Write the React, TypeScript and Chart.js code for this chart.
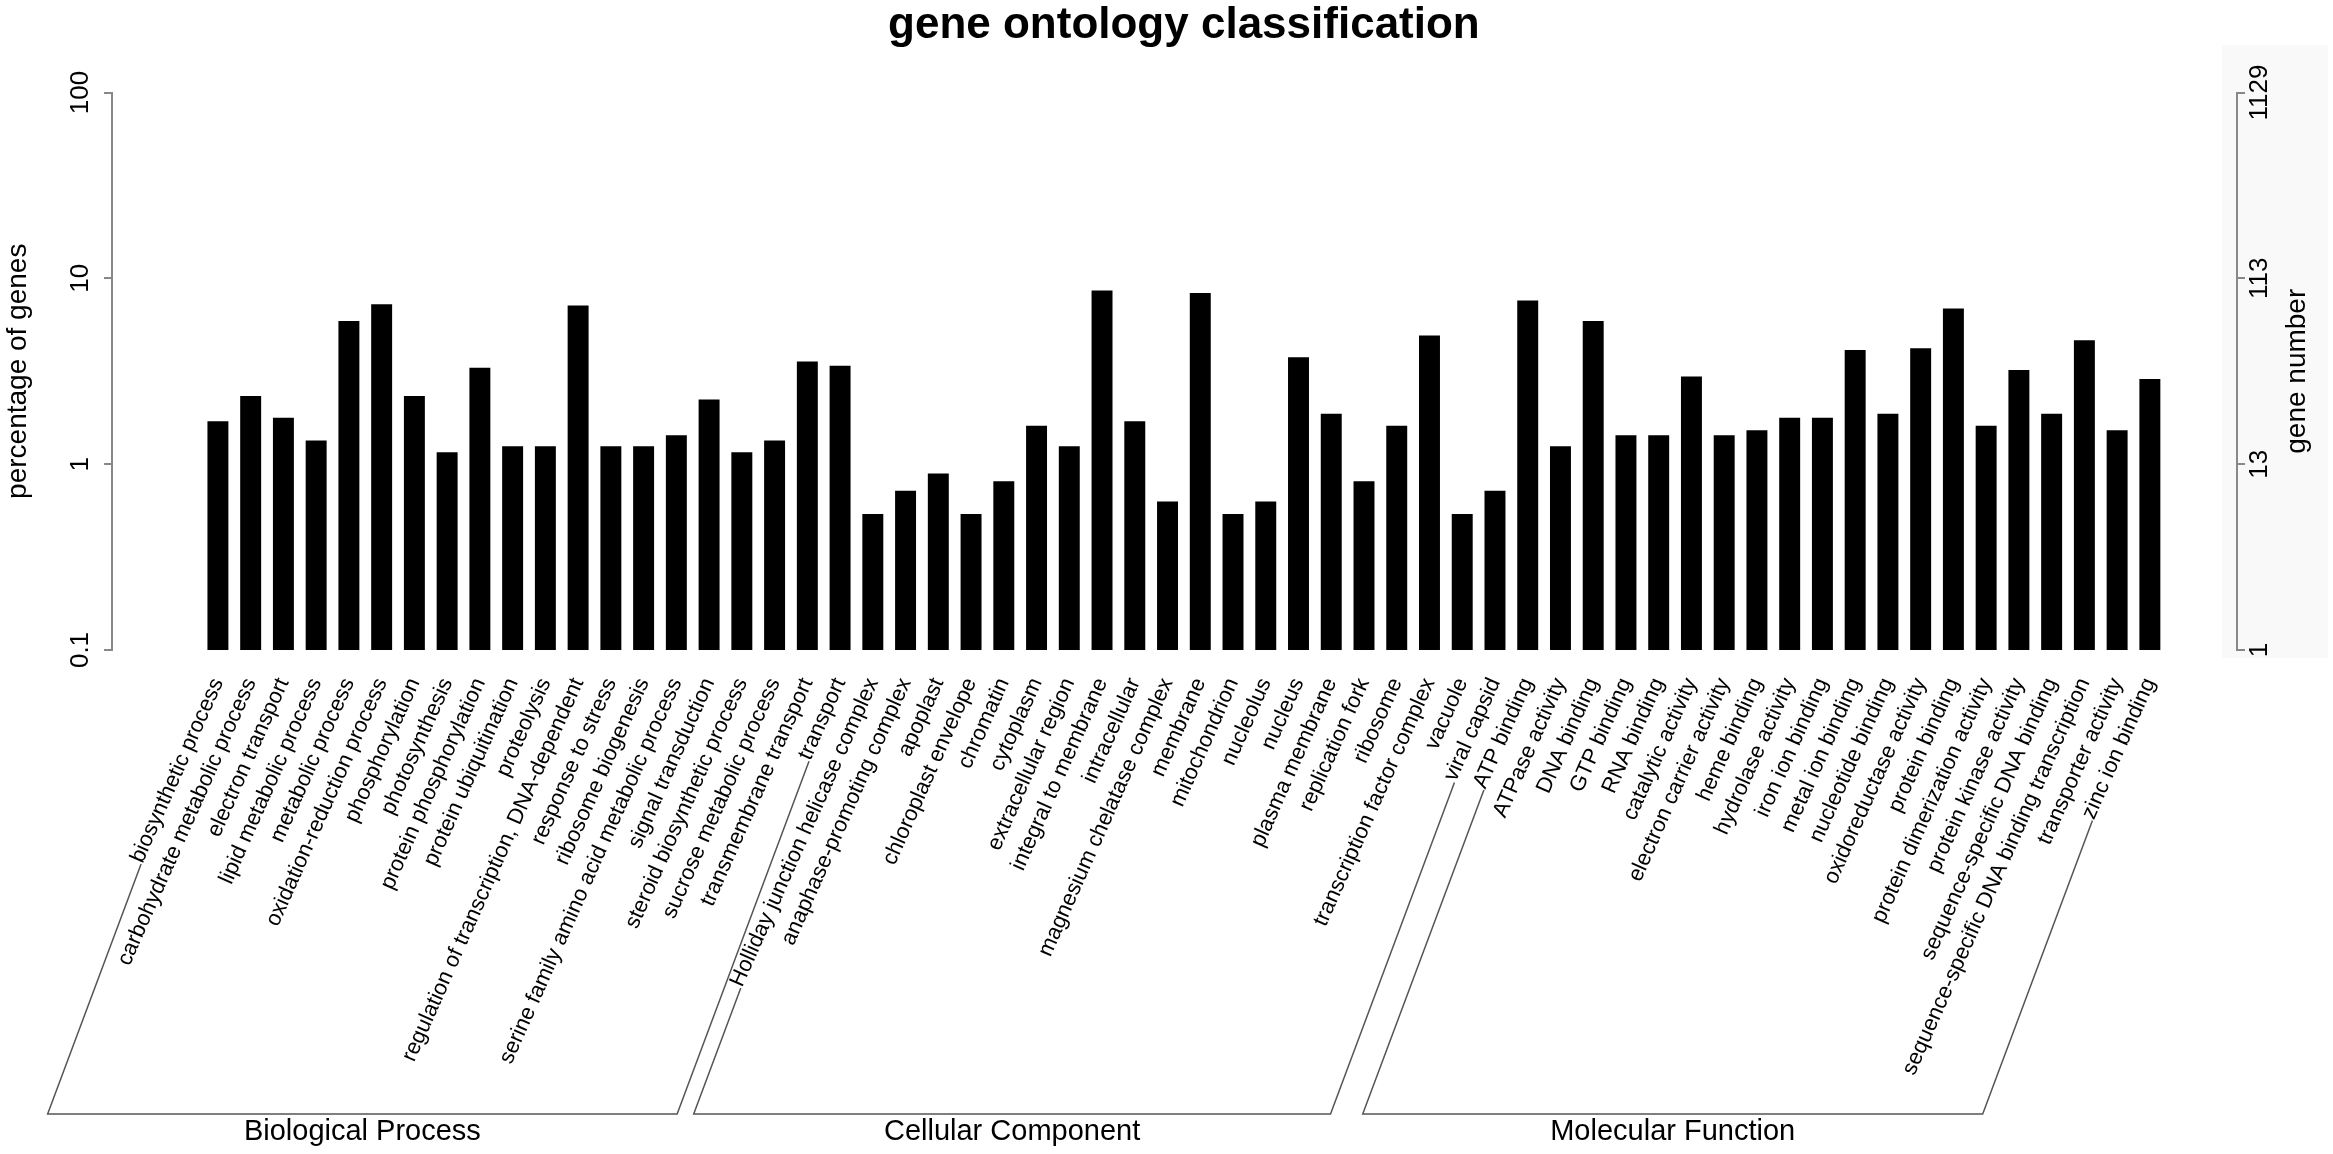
import { useEffect, useRef } from 'react'
import { Chart, registerables } from 'chart.js'

Chart.register(...registerables)

const categories = [
  'biosynthetic process', 'carbohydrate metabolic process', 'electron transport', 'lipid metabolic process',
  'metabolic process', 'oxidation-reduction process', 'phosphorylation', 'photosynthesis',
  'protein phosphorylation', 'protein ubiquitination', 'proteolysis', 'regulation of transcription, DNA-dependent',
  'response to stress', 'ribosome biogenesis', 'serine family amino acid metabolic process', 'signal transduction',
  'steroid biosynthetic process', 'sucrose metabolic process', 'transmembrane transport', 'transport',
  'Holliday junction helicase complex', 'anaphase-promoting complex', 'apoplast', 'chloroplast envelope',
  'chromatin', 'cytoplasm', 'extracellular region', 'integral to membrane',
  'intracellular', 'magnesium chelatase complex', 'membrane', 'mitochondrion',
  'nucleolus', 'nucleus', 'plasma membrane', 'replication fork',
  'ribosome', 'transcription factor complex', 'vacuole', 'viral capsid',
  'ATP binding', 'ATPase activity', 'DNA binding', 'GTP binding',
  'RNA binding', 'catalytic activity', 'electron carrier activity', 'heme binding',
  'hydrolase activity', 'iron ion binding', 'metal ion binding', 'nucleotide binding',
  'oxidoreductase activity', 'protein binding', 'protein dimerization activity', 'protein kinase activity',
  'sequence-specific DNA binding', 'sequence-specific DNA binding transcription', 'transporter activity', 'zinc ion binding',
]

// percentage of genes, per group
const processValues = [1.7, 2.33, 1.78, 1.34, 5.89, 7.25, 2.33, 1.16, 3.3, 1.25, 1.25, 7.14, 1.25, 1.25, 1.43, 2.23, 1.16, 1.34, 3.57, 3.39]
const componentValues = [0.54, 0.72, 0.89, 0.54, 0.81, 1.61, 1.25, 8.61, 1.7, 0.63, 8.35, 0.54, 0.63, 3.76, 1.87, 0.81, 1.61, 4.93, 0.54, 0.72]
const functionValues = [7.6, 1.25, 5.89, 1.43, 1.43, 2.96, 1.43, 1.52, 1.78, 1.78, 4.11, 1.87, 4.2, 6.88, 1.61, 3.21, 1.87, 4.65, 1.52, 2.87]

const groupNames = ['Biological Process', 'Cellular Component', 'Molecular Function']
const groupSizes = [20, 20, 20]

const percentTicks = [0.1, 1, 10, 100]
const geneNumberTicks = ['1', '13', '113', '1129']

const W = 2333
const H = 1154
const FONT = "'Liberation Sans', Arial, Helvetica, sans-serif"
const LABEL_ANGLE = 66
const LABEL_SIZE = 22
const LABEL_PAD = 16
const BRACKET_Y = 1114
const BRACKET_ANGLE = 69.5

const values = [...processValues, ...componentValues, ...functionValues]

const decorations = {
  id: 'decorations',
  beforeDraw(chart: Chart) {
    const ctx = chart.ctx
    ctx.save()
    ctx.fillStyle = '#fff'
    ctx.fillRect(0, 0, W, H)
    ctx.fillStyle = '#f9f9f9'
    ctx.fillRect(2222, 45, 106, 613)
    ctx.restore()
  },
  afterDraw(chart: Chart) {
    const ctx = chart.ctx
    const x = chart.scales.x
    const area = chart.chartArea
    ctx.save()
    ctx.fillStyle = '#000'

    // main title, centred over the bars
    ctx.font = `bold 44px ${FONT}`
    ctx.textAlign = 'center'
    ctx.textBaseline = 'alphabetic'
    const mid = (x.getPixelForValue(0) + x.getPixelForValue(categories.length - 1)) / 2
    ctx.fillText('gene ontology classification', mid, 37.5)

    // right axis title, reading upwards like the left one
    ctx.save()
    ctx.translate(2297, (area.top + area.bottom) / 2)
    ctx.rotate(-Math.PI / 2)
    ctx.font = `28px ${FONT}`
    ctx.textBaseline = 'middle'
    ctx.fillText('gene number', 0, 0)
    ctx.restore()

    // group brackets, from the start of the first and last label of each group
    const th = (LABEL_ANGLE * Math.PI) / 180
    const cot = 1 / Math.tan((BRACKET_ANGLE * Math.PI) / 180)
    const yEnd = x.top + LABEL_PAD + ((LABEL_SIZE * 1.2) / 2) * Math.cos(th)
    ctx.font = `${LABEL_SIZE}px ${FONT}`
    const startOf = (i: number) => {
      const L = ctx.measureText(categories[i]).width
      const px = x.getPixelForValue(i)
      const sx = px - L * Math.cos(th) + 0.35 * LABEL_SIZE * Math.sin(th)
      const sy = yEnd + L * Math.sin(th) + 0.35 * LABEL_SIZE * Math.cos(th)
      return [sx, sy]
    }
    const gap = 8
    ctx.strokeStyle = '#555'
    ctx.lineWidth = 1.5
    let first = 0
    groupNames.forEach((name, g) => {
      const last = first + groupSizes[g] - 1
      const [ax, ay] = startOf(first)
      const [bx, by] = startOf(last)
      const c1 = ax - (BRACKET_Y - ay) * cot
      const c2 = bx - (BRACKET_Y - by) * cot
      const top = (sx: number, sy: number, cx: number) => {
        const dx = sx - cx
        const dy = sy - BRACKET_Y
        const d = Math.hypot(dx, dy)
        return [sx - (gap * dx) / d, sy - (gap * dy) / d]
      }
      const [t1x, t1y] = top(ax, ay, c1)
      const [t2x, t2y] = top(bx, by, c2)
      ctx.beginPath()
      ctx.moveTo(t1x, t1y)
      ctx.lineTo(c1, BRACKET_Y)
      ctx.lineTo(c2, BRACKET_Y)
      ctx.lineTo(t2x, t2y)
      ctx.stroke()

      ctx.font = `29px ${FONT}`
      ctx.textAlign = 'center'
      ctx.textBaseline = 'alphabetic'
      ctx.fillText(name, (c1 + c2) / 2, 1140)
      ctx.font = `${LABEL_SIZE}px ${FONT}`
      first = last + 1
    })
    ctx.restore()
  },
}

const logTicks = (s: any) => {
  s.ticks = percentTicks.map((v) => ({ value: v }))
}

export default function App() {
  const canvasRef = useRef<HTMLCanvasElement | null>(null)

  useEffect(() => {
    if (!canvasRef.current) return
    Chart.defaults.font.family = FONT
    Chart.defaults.color = '#000'
    const chart = new Chart(canvasRef.current, {
      type: 'bar',
      data: {
        datasets: [
          {
            data: values.map((v, i) => ({ x: i, y: v })),
            backgroundColor: '#000',
            borderWidth: 0,
            barPercentage: 0.64,
            categoryPercentage: 1,
          },
        ],
      },
      options: {
        animation: false,
        responsive: false,
        devicePixelRatio: 1,
        layout: { padding: { top: 92.5, left: 0, right: 0, bottom: 0 } },
        plugins: {
          legend: { display: false },
          title: { display: false },
          tooltip: { enabled: false },
        },
        scales: {
          x: {
            type: 'linear',
            min: -2.694,
            max: 61.12,
            grid: { display: false },
            border: { display: false },
            afterBuildTicks: (s: any) => {
              s.ticks = categories.map((_, i) => ({ value: i }))
            },
            afterFit: (s: any) => {
              s.height = H - 650
            },
            ticks: {
              autoSkip: false,
              minRotation: LABEL_ANGLE,
              maxRotation: LABEL_ANGLE,
              padding: LABEL_PAD,
              color: '#000',
              font: { family: FONT, size: LABEL_SIZE },
              callback: (v: any) => categories[v] ?? '',
            },
          },
          y: {
            type: 'logarithmic',
            position: 'left',
            min: 0.1,
            max: 100,
            afterBuildTicks: logTicks,
            afterFit: (s: any) => {
              s.width = 112
            },
            grid: { drawOnChartArea: false, drawTicks: true, tickLength: 8, color: '#888', lineWidth: 2 },
            border: { display: true, color: '#888', width: 2 },
            ticks: {
              minRotation: 90,
              maxRotation: 90,
              crossAlign: 'center',
              padding: 1,
              color: '#000',
              font: { family: FONT, size: 26 },
              callback: (v: any) => String(v),
            },
            title: {
              display: true,
              text: 'percentage of genes',
              color: '#000',
              font: { family: FONT, size: 28 },
              padding: { top: 1, bottom: 0 },
            },
          },
          y2: {
            type: 'logarithmic',
            position: 'right',
            min: 0.1,
            max: 100,
            afterBuildTicks: logTicks,
            afterFit: (s: any) => {
              s.width = W - 2237
            },
            grid: { drawOnChartArea: false, drawTicks: true, tickLength: 8, color: '#888', lineWidth: 2 },
            border: { display: true, color: '#888', width: 2 },
            ticks: {
              minRotation: 90,
              maxRotation: 90,
              crossAlign: 'center',
              padding: -13,
              color: '#000',
              font: { family: FONT, size: 26 },
              callback: (_v: any, i: number) => geneNumberTicks[i],
            },
          },
        },
      },
      plugins: [decorations],
    })
    return () => chart.destroy()
  }, [])

  return (
    <div style={{ position: 'fixed', left: 0, top: 0, width: W, height: H, background: '#fff' }}>
      <canvas ref={canvasRef} width={W} height={H} style={{ width: W, height: H, display: 'block' }} />
    </div>
  )
}
